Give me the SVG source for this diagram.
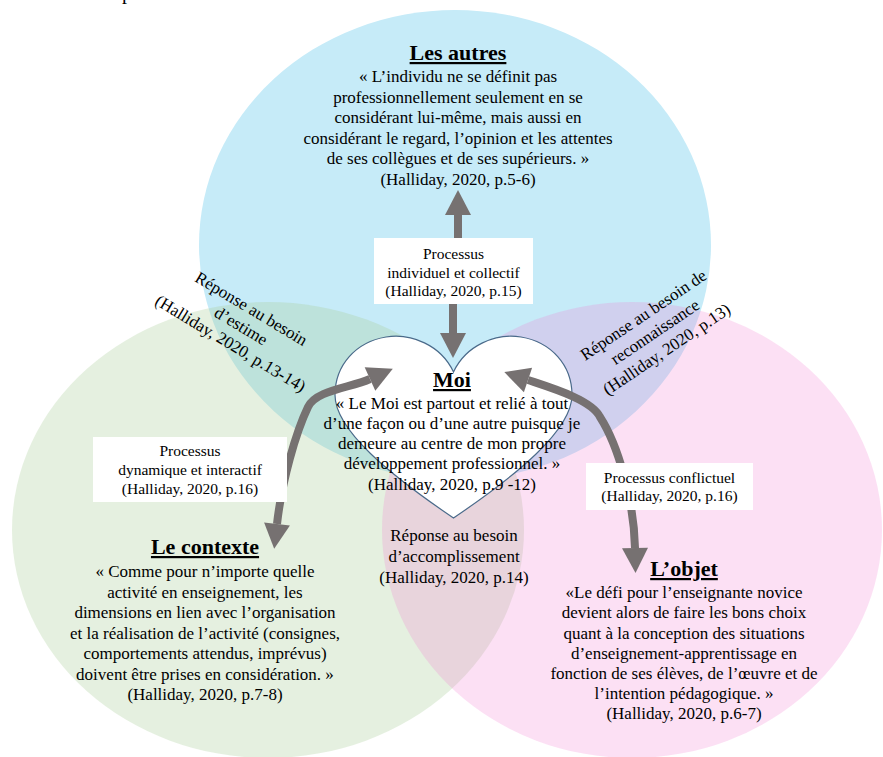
<svg xmlns="http://www.w3.org/2000/svg" width="883" height="757" viewBox="0 0 883 757">
<style>
text{font-family:"Liberation Serif","Times New Roman",serif;fill:#000;text-anchor:middle}
.body{font-size:17px}
.small{font-size:15.5px}
.title{font-size:22px;font-weight:bold;text-decoration:underline}
.box{fill:#fff;stroke:none}
.conn{fill:none;stroke:#767171;stroke-width:8;marker-end:url(#ah)}
.both{marker-start:url(#ah)}
</style>
<defs>
<marker id="ah" markerUnits="userSpaceOnUse" markerWidth="26" markerHeight="26" refX="0" refY="13" orient="auto-start-reverse" overflow="visible">
<path d="M0,0 L25,13 L0,26 Z" fill="#767171"/>
</marker>
</defs>
<rect width="883" height="757" fill="#fff"/>
<text x="122" y="-1" style="font-size:20px;text-anchor:start">p</text>

<g id="les-autres">
<ellipse cx="455" cy="245" rx="256" ry="235" fill="#C6EBF8"/>
<text class="title" x="458" y="60">Les autres</text>
<text class="body" x="458" y="82">« L’individu ne se définit pas</text>
<text class="body" x="458" y="102.5">professionnellement seulement en se</text>
<text class="body" x="458" y="123">considérant lui-même, mais aussi en</text>
<text class="body" x="458" y="143.5">considérant le regard, l’opinion et les attentes</text>
<text class="body" x="458" y="164">de ses collègues et de ses supérieurs. »</text>
<text class="body" x="458" y="184.5">(Halliday, 2020, p.5-6)</text>
</g>

<g id="le-contexte">
<ellipse cx="268" cy="530" rx="256" ry="228" fill="#A8CD98" fill-opacity="0.3"/>
<text class="title" x="205" y="554">Le contexte</text>
<text class="body" x="205" y="577">« Comme pour n’importe quelle</text>
<text class="body" x="205" y="597.5">activité en enseignement, les</text>
<text class="body" x="205" y="618">dimensions en lien avec l’organisation</text>
<text class="body" x="205" y="638.5">et la réalisation de l’activité (consignes,</text>
<text class="body" x="205" y="659">comportements attendus, imprévus)</text>
<text class="body" x="205" y="679.5">doivent être prises en considération. »</text>
<text class="body" x="205" y="700">(Halliday, 2020, p.7-8)</text>
</g>

<g id="l-objet">
<ellipse cx="632" cy="530" rx="250" ry="228" fill="#F07ACF" fill-opacity="0.23"/>
<text class="title" x="684" y="576">L’objet</text>
<text class="body" x="684" y="598">«Le défi pour l’enseignante novice</text>
<text class="body" x="684" y="618">devient alors de faire les bons choix</text>
<text class="body" x="684" y="638.5">quant à la conception des situations</text>
<text class="body" x="684" y="658.5">d’enseignement-apprentissage en</text>
<text class="body" x="684" y="678.5">fonction de ses élèves, de l’œuvre et de</text>
<text class="body" x="684" y="698.5">l’intention pédagogique. »</text>
<text class="body" x="684" y="719">(Halliday, 2020, p.6-7)</text>
</g>

<g id="moi">
<path d="M453.5 372 C441 345 411 333 386 337 C356 342 335 365 335 395 C335 430 390 475 453.5 518 C517 475 572 430 572 395 C572 365 551 342 521 337 C496 333 466 345 453.5 372 Z" fill="#fff" stroke="#4A6A8A" stroke-width="1.2"/>
<text class="title" x="452" y="387">Moi</text>
<text class="body" x="452" y="408.5">« Le Moi est partout et relié à tout</text>
<text class="body" x="452" y="429">d’une façon ou d’une autre puisque je</text>
<text class="body" x="452" y="449">demeure au centre de mon propre</text>
<text class="body" x="452" y="469">développement professionnel. »</text>
<text class="body" x="452" y="490">(Halliday, 2020, p.9 -12)</text>
</g>

<g id="connectors">
<path class="conn" d="M458 238 L458 215"/>
<path class="conn" d="M453 304 L453 333"/>
<path class="conn both" d="M277 524 C282 480 296 432 308 407 C316 390 350 388 370 379"/>
<path class="conn both" d="M635 548 C634 500 618 445 600 417 C592 400 552 388 528 380"/>
</g>

<g id="proc-individuel">
<rect class="box" x="374" y="238" width="159" height="66"/>
<text class="small" x="453.5" y="259">Processus</text>
<text class="small" x="453.5" y="277.5">individuel et collectif</text>
<text class="small" x="453.5" y="296">(Halliday, 2020, p.15)</text>
</g>

<g id="proc-dynamique">
<rect class="box" x="93" y="437" width="194" height="65"/>
<text class="small" x="190" y="456">Processus</text>
<text class="small" x="190" y="474.5">dynamique et interactif</text>
<text class="small" x="190" y="494">(Halliday, 2020, p.16)</text>
</g>

<g id="proc-conflictuel">
<rect class="box" x="586" y="463" width="167" height="47"/>
<text class="small" x="669.5" y="483">Processus conflictuel</text>
<text class="small" x="669.5" y="501">(Halliday, 2020, p.16)</text>
</g>

<g id="besoin-estime" transform="translate(241 326) rotate(31)">
<text class="body" x="0" y="-14.5">Réponse au besoin</text>
<text class="body" x="0" y="5.5">d’estime</text>
<text class="body" x="0" y="26">(Halliday, 2020, p.13-14)</text>
</g>

<g id="besoin-reconnaissance" transform="translate(655 332) rotate(-34)">
<text class="body" x="0" y="-15">Réponse au besoin de</text>
<text class="body" x="0" y="5.5">reconnaissance</text>
<text class="body" x="0" y="26.5">(Halliday, 2020, p.13)</text>
</g>

<g id="besoin-accomplissement">
<text class="body" x="454" y="541">Réponse au besoin</text>
<text class="body" x="454" y="562">d’accomplissement</text>
<text class="body" x="454" y="583">(Halliday, 2020, p.14)</text>
</g>
</svg>
